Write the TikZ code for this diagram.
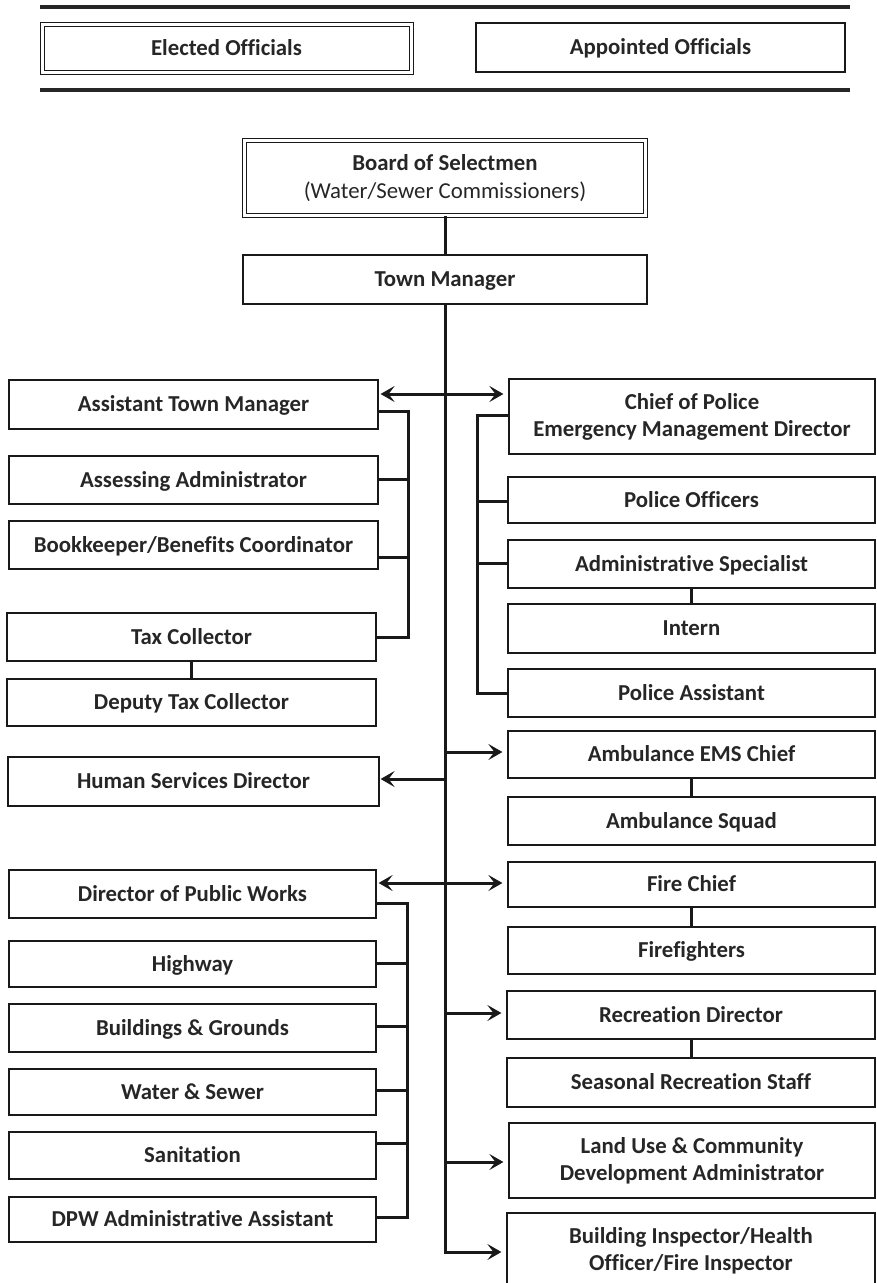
\documentclass[tikz,border=0pt]{standalone}
\usepackage{fontspec}
\setmainfont{Carlito}[Ligatures=NoCommon]
\usetikzlibrary{arrows.meta}
\newcommand\fsz{\fontsize{22.8}{27}\selectfont}
\newcommand\orgbox[7][one]{\node[box,#1,minimum width={(#5)-(#3)},minimum height={(#6)-(#4)}] (#2) at ({((#3)+(#5))/2},{((#4)+(#6))/2}) {#7};}
\begin{document}
\begin{tikzpicture}[x=1pt,y=-1pt,
  box/.style={draw=black!90, line width=1.2pt, inner sep=0pt, font=\fsz\bfseries, align=center, text=black!85},
  one/.style={text height=19.5pt, text depth=5pt},
  two/.style={},
  dbl/.style={double=white, double distance=3pt, line width=1pt},
  conn/.style={line width=3pt, line join=miter, draw=black!90},
  arr/.style={conn, -{Stealth[length=14pt,width=16pt,inset=6pt]}},
  rule/.style={line width=4pt, draw=black!85}
]
\useasboundingbox (0,0) rectangle (876,1283);
\clip (0,0) rectangle (876,1283);

% legend
\draw[rule] (40,7) -- (850,7);
\draw[rule] (40,90) -- (850,90);
\orgbox[one,dbl]{elected}{42}{24}{411}{72}{Elected Officials}
\orgbox{appointed}{476}{23}{845}{72}{Appointed Officials}

% top
\orgbox[two,dbl]{board}{244.5}{140.5}{645.5}{215.5}{Board of Selectmen\\[1pt]{\mdseries (Water/Sewer Commissioners)}}
\orgbox{tm}{243}{255}{647}{304}{Town Manager}

% left column
\orgbox{atm}{9}{380}{378}{429}{Assistant Town Manager}
\orgbox{assess}{9}{456}{378}{504}{Assessing Administrator}
\orgbox{book}{9}{521}{378}{569}{Bookkeeper/Benefits Coordinator}
\orgbox{tax}{7}{613}{376}{661}{Tax Collector}
\orgbox{deputy}{7}{679}{376}{726}{Deputy Tax Collector}
\orgbox{hsd}{8}{757}{379}{806}{Human Services Director}
\orgbox{dpw}{9}{870}{376}{918}{Director of Public Works}
\orgbox{highway}{9}{941}{376}{987}{Highway}
\orgbox{bldg}{9}{1004}{376}{1052}{Buildings \& Grounds}
\orgbox{water}{9}{1069}{376}{1115}{Water \& Sewer}
\orgbox{sanit}{9}{1132}{376}{1179}{Sanitation}
\orgbox{dpwadmin}{9}{1197}{376}{1242}{DPW Administrative Assistant}

% right column
\orgbox[two]{chief}{509}{379}{875}{454}{Chief of Police\\Emergency Management Director}
\orgbox{officers}{508}{477}{875}{523}{Police Officers}
\orgbox{adminspec}{508}{540}{875}{588}{Administrative Specialist}
\orgbox{intern}{508}{604}{875}{653}{Intern}
\orgbox{passt}{508}{669}{875}{717}{Police Assistant}
\orgbox{ems}{508}{731}{875}{778}{Ambulance EMS Chief}
\orgbox{squad}{508}{797}{875}{845}{Ambulance Squad}
\orgbox{fire}{508}{862}{875}{907}{Fire Chief}
\orgbox{ffighters}{508}{927}{875}{974}{Firefighters}
\orgbox{rec}{507}{991}{875}{1039}{Recreation Director}
\orgbox{seasonal}{507}{1058}{875}{1107}{Seasonal Recreation Staff}
\orgbox[two]{landuse}{509}{1123}{875}{1198}{Land Use \& Community\\Development Administrator}
\orgbox[two]{bldginsp}{507}{1213}{875}{1289}{Building Inspector/Health\\Officer/Fire Inspector}

% trunk
\draw[conn] (board.south) -- (tm.north);
\coordinate (j1) at (445,394);
\coordinate (j2) at (445,752);
\coordinate (j3) at (445,779);
\coordinate (j4) at (445,883);
\coordinate (j5) at (445,1013);
\coordinate (j6) at (445,1162);
\coordinate (tend) at (445,1252);
\draw[arr, shorten >=5pt] (tm.south) -- (tend) -- (tend -| bldginsp.west);
\draw[arr, shorten >=2pt] (j1) -- (j1 -| atm.east);
\draw[arr, shorten >=5pt] (j1) -- (j1 -| chief.west);
\draw[arr, shorten >=5pt] (j2) -- (j2 -| ems.west);
\draw[arr, shorten >=1pt] (j3) -- (j3 -| hsd.east);
\draw[arr, shorten >=2pt] (j4) -- (j4 -| dpw.east);
\draw[arr, shorten >=5pt] (j4) -- (j4 -| fire.west);
\draw[arr, shorten >=5pt] (j5) -- (j5 -| rec.west);
\draw[arr, shorten >=5pt] (j6) -- (j6 -| landuse.west);

% left upper bracket
\coordinate (lb1) at (408,411);
\coordinate (lb2) at (408,637);
\coordinate (lba) at (408,479);
\coordinate (lbb) at (408,557);
\draw[conn] (lb1 -| atm.east) -- (lb1) -- (lb2) -- (lb2 -| tax.east);
\draw[conn] (lba -| assess.east) -- (lba);
\draw[conn] (lbb -| book.east) -- (lbb);
\draw[conn] (tax.south) -- (deputy.north);

% police bracket
\coordinate (pb1) at (477,415);
\coordinate (pb2) at (477,693);
\coordinate (pba) at (477,501);
\coordinate (pbb) at (477,563);
\draw[conn] (pb1 -| chief.west) -- (pb1) -- (pb2) -- (pb2 -| passt.west);
\draw[conn] (pba -| officers.west) -- (pba);
\draw[conn] (pbb -| adminspec.west) -- (pbb);
\draw[conn] (adminspec.south) -- (intern.north);
\draw[conn] (ems.south) -- (squad.north);
\draw[conn] (fire.south) -- (ffighters.north);
\draw[conn] (rec.south) -- (seasonal.north);

% DPW bracket
\coordinate (db1) at (407,903);
\coordinate (db2) at (407,1217);
\coordinate (dba) at (407,963);
\coordinate (dbb) at (407,1026);
\coordinate (dbc) at (407,1090);
\coordinate (dbd) at (407,1143);
\draw[conn] (db1 -| dpw.east) -- (db1) -- (db2) -- (db2 -| dpwadmin.east);
\draw[conn] (dba -| highway.east) -- (dba);
\draw[conn] (dbb -| bldg.east) -- (dbb);
\draw[conn] (dbc -| water.east) -- (dbc);
\draw[conn] (dbd -| sanit.east) -- (dbd);
\end{tikzpicture}
\end{document}
